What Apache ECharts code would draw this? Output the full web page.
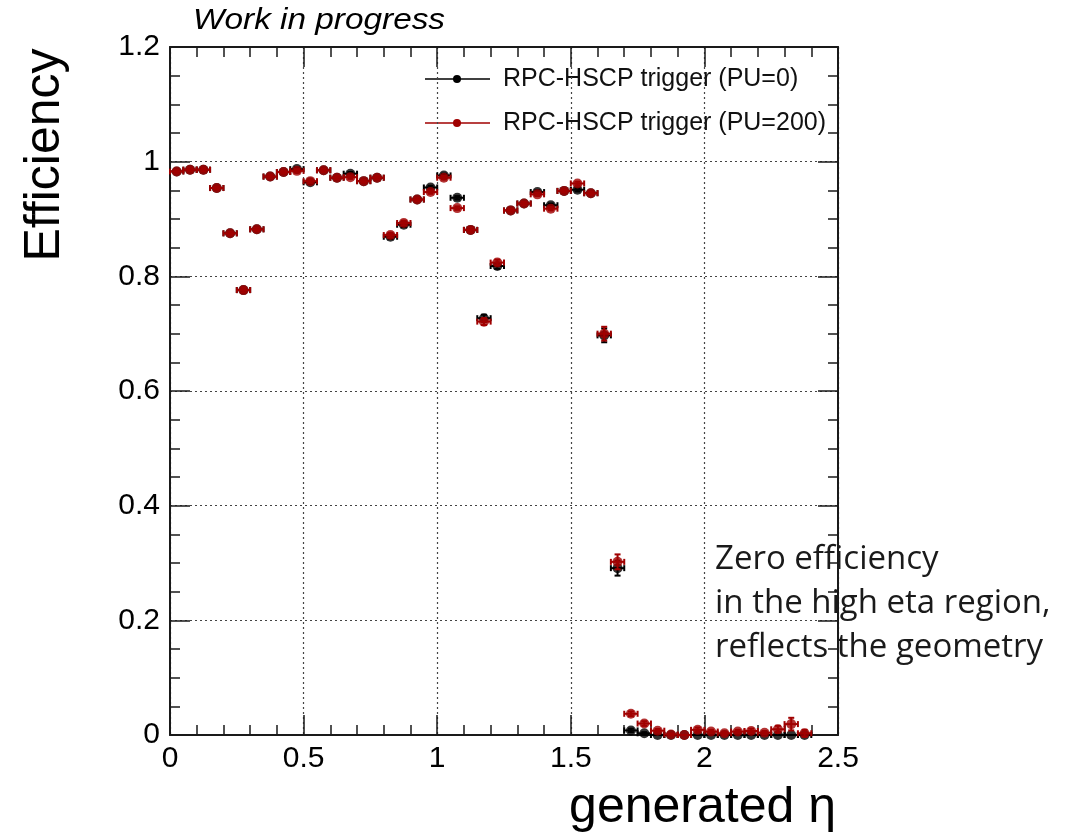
<!DOCTYPE html>
<html>
<head>
<meta charset="utf-8">
<title>RPC-HSCP trigger efficiency vs generated eta</title>
<script src="https://cdn.jsdelivr.net/npm/echarts@6/dist/echarts.min.js"></script>
<style>
  html, body { margin: 0; padding: 0; background: #ffffff; }
  #chart { width: 1068px; height: 839px; }
</style>
</head>
<body>
<div id="chart"></div>
<script>
// Histogram binning in generated eta
const BIN_WIDTH = 0.05;
const etaBins = [
  0.025, 0.075, 0.125, 0.175, 0.225, 0.275, 0.325, 0.375, 0.425, 0.475,
  0.525, 0.575, 0.625, 0.675, 0.725, 0.775, 0.825, 0.875, 0.925, 0.975,
  1.025, 1.075, 1.125, 1.175, 1.225, 1.275, 1.325, 1.375, 1.425, 1.475,
  1.525, 1.575, 1.625, 1.675, 1.725, 1.775, 1.825, 1.875, 1.925, 1.975,
  2.025, 2.075, 2.125, 2.175, 2.225, 2.275, 2.325, 2.375
];

// Efficiency, PU = 0
const effPU0 = [
  0.983, 0.986, 0.986, 0.954, 0.875, 0.776, 0.882, 0.974, 0.982, 0.987,
  0.964, 0.985, 0.972, 0.979, 0.966, 0.972, 0.869, 0.890, 0.934, 0.955,
  0.976, 0.937, 0.881, 0.727, 0.818, 0.915, 0.927, 0.947, 0.924, 0.949,
  0.951, 0.945, 0.697, 0.291, 0.008, 0.003, 0.000, 0.000, 0.000, 0.000,
  0.000, 0.000, 0.000, 0.000, 0.000, 0.000, 0.000, 0.000
];
const errPU0 = [
  0.003, 0.003, 0.003, 0.003, 0.003, 0.004, 0.003, 0.003, 0.003, 0.003,
  0.003, 0.003, 0.003, 0.003, 0.003, 0.003, 0.004, 0.004, 0.003, 0.003,
  0.003, 0.003, 0.004, 0.006, 0.005, 0.003, 0.003, 0.003, 0.003, 0.003,
  0.003, 0.003, 0.012, 0.013, 0.003, 0.002, 0.000, 0.000, 0.000, 0.000,
  0.000, 0.000, 0.000, 0.000, 0.000, 0.000, 0.000, 0.000
];

// Efficiency, PU = 200
const effPU200 = [
  0.983, 0.986, 0.986, 0.954, 0.875, 0.776, 0.882, 0.974, 0.982, 0.984,
  0.966, 0.985, 0.972, 0.973, 0.966, 0.972, 0.872, 0.893, 0.934, 0.947,
  0.972, 0.919, 0.881, 0.721, 0.824, 0.915, 0.927, 0.943, 0.918, 0.949,
  0.962, 0.945, 0.700, 0.302, 0.037, 0.020, 0.0075, 0.001, 0.000, 0.009,
  0.006, 0.003, 0.006, 0.007, 0.004, 0.010, 0.019, 0.003
];
const errPU200 = [
  0.003, 0.003, 0.003, 0.003, 0.003, 0.004, 0.003, 0.003, 0.003, 0.003,
  0.003, 0.003, 0.003, 0.003, 0.003, 0.003, 0.004, 0.004, 0.003, 0.003,
  0.003, 0.003, 0.004, 0.006, 0.005, 0.003, 0.003, 0.003, 0.003, 0.003,
  0.003, 0.003, 0.012, 0.013, 0.004, 0.004, 0.003, 0.002, 0.000, 0.004,
  0.003, 0.003, 0.003, 0.004, 0.003, 0.006, 0.011, 0.006
];

// Axis tick values
const xTicks = [0, 0.5, 1, 1.5, 2, 2.5];
const yTicks = [0, 0.2, 0.4, 0.6, 0.8, 1, 1.2];

const seriesNames = ['RPC-HSCP trigger (PU=0)', 'RPC-HSCP trigger (PU=200)'];
const noteLines = ['Zero efficiency', 'in the high eta region,', 'reflects the geometry'];
const COLOR_PU0 = '#000000';
const COLOR_PU200 = '#a00000';
const FONT = '"Liberation Sans", Arial, Helvetica, sans-serif';
const NOTE_FONT = '33px "Open Sans", "Noto Sans", sans-serif';

function points(vals, errs) {
  return etaBins.map((x, i) => [x, vals[i], errs[i]]);
}

// Error bars: horizontal = bin width, vertical = statistical error, with end caps
function errorBarRenderer(color) {
  const cap = 3;
  return function (params, api) {
    const x = api.value(0), y = api.value(1), e = api.value(2);
    const half = BIN_WIDTH / 2;
    const pL = api.coord([x - half, y]);
    const pR = api.coord([x + half, y]);
    const style = { stroke: color, lineWidth: 2 };
    const children = [
      { type: 'line', shape: { x1: pL[0], y1: pL[1], x2: pR[0], y2: pR[1] }, style },
      { type: 'line', shape: { x1: pL[0], y1: pL[1] - cap, x2: pL[0], y2: pL[1] + cap }, style },
      { type: 'line', shape: { x1: pR[0], y1: pR[1] - cap, x2: pR[0], y2: pR[1] + cap }, style }
    ];
    if (e > 0) {
      const pT = api.coord([x, y + e]);
      const pB = api.coord([x, y - e]);
      children.push(
        { type: 'line', shape: { x1: pT[0], y1: pT[1], x2: pB[0], y2: pB[1] }, style },
        { type: 'line', shape: { x1: pT[0] - cap, y1: pT[1], x2: pT[0] + cap, y2: pT[1] }, style },
        { type: 'line', shape: { x1: pB[0] - cap, y1: pB[1], x2: pB[0] + cap, y2: pB[1] }, style }
      );
    }
    return { type: 'group', children };
  };
}

const axisLineStyle = { color: '#1a1a1a', width: 2 };
const gridLineStyle = { color: '#444444', width: 1.2, type: [2, 3] };

function xAxisDef(pos, showLabels) {
  return {
    type: 'value', position: pos,
    min: xTicks[0], max: xTicks[xTicks.length - 1], interval: 0.5,
    axisLine: { show: true, onZero: false, lineStyle: axisLineStyle },
    axisTick: { show: true, inside: true, length: 20, lineStyle: { color: '#1a1a1a', width: 1.5 } },
    minorTick: { show: true, splitNumber: 5, length: 10, lineStyle: { color: '#1a1a1a', width: 1.5 } },
    splitLine: { show: showLabels, lineStyle: gridLineStyle },
    minorSplitLine: { show: false },
    axisLabel: {
      show: showLabels, color: '#000', fontFamily: FONT, fontSize: 30, margin: 9,
      showMinLabel: true, showMaxLabel: true,
      formatter: v => String(v)
    }
  };
}

function yAxisDef(pos, showLabels) {
  return {
    type: 'value', position: pos,
    min: yTicks[0], max: yTicks[yTicks.length - 1], interval: 0.2,
    axisLine: { show: true, onZero: false, lineStyle: axisLineStyle },
    axisTick: { show: true, inside: true, length: 20, lineStyle: { color: '#1a1a1a', width: 1.5 } },
    minorTick: { show: true, splitNumber: 4, length: 10, lineStyle: { color: '#1a1a1a', width: 1.5 } },
    splitLine: { show: showLabels, lineStyle: gridLineStyle },
    minorSplitLine: { show: false },
    axisLabel: {
      show: showLabels, color: '#000', fontFamily: FONT, fontSize: 30, margin: 10,
      showMinLabel: true, showMaxLabel: true,
      formatter: v => String(Math.round(v * 10) / 10)
    }
  };
}

function legendEntry(y, color, label) {
  return [
    { type: 'line', shape: { x1: 425, y1: y, x2: 490, y2: y }, style: { stroke: color, lineWidth: 1.5 } },
    { type: 'circle', shape: { cx: 457, cy: y, r: 4 }, style: { fill: color } },
    { type: 'text', x: 503, y: y, style: { text: label, fill: '#111', font: '25px ' + FONT, textVerticalAlign: 'middle' } }
  ];
}

function noteText(i, y) {
  return { type: 'text', x: 715, y: y, style: { text: noteLines[i], fill: '#1a1a1a', font: NOTE_FONT, textVerticalAlign: 'middle' } };
}

const chart = echarts.init(document.getElementById('chart'), null, { renderer: 'canvas' });

chart.setOption({
  backgroundColor: '#ffffff',
  animation: false,
  grid: { left: 170, right: 230, top: 47, bottom: 104, outerBoundsMode: 'none' },
  xAxis: [xAxisDef('bottom', true), xAxisDef('top', false)],
  yAxis: [yAxisDef('left', true), yAxisDef('right', false)],
  series: [
    {
      name: seriesNames[0] + ' errors', type: 'custom', xAxisIndex: 0, yAxisIndex: 0, z: 2,
      renderItem: errorBarRenderer(COLOR_PU0), data: points(effPU0, errPU0), silent: true
    },
    {
      name: seriesNames[0], type: 'scatter', xAxisIndex: 0, yAxisIndex: 0, z: 3,
      symbol: 'circle', symbolSize: 10, itemStyle: { color: COLOR_PU0 },
      data: points(effPU0, errPU0)
    },
    {
      name: seriesNames[1] + ' errors', type: 'custom', xAxisIndex: 0, yAxisIndex: 0, z: 4,
      renderItem: errorBarRenderer(COLOR_PU200), data: points(effPU200, errPU200), silent: true
    },
    {
      name: seriesNames[1], type: 'scatter', xAxisIndex: 0, yAxisIndex: 0, z: 5,
      symbol: 'circle', symbolSize: 10, itemStyle: { color: COLOR_PU200 },
      data: points(effPU200, errPU200)
    }
  ],
  graphic: [
    { type: 'text', x: 193, y: 21, scaleX: 1.15, style: { text: 'Work in progress', fill: '#000', font: 'italic 29px ' + FONT, textVerticalAlign: 'middle' } },
    { type: 'text', x: 45, y: 155, rotation: Math.PI / 2, style: { text: 'Efficiency', fill: '#000', font: '50px ' + FONT, textAlign: 'center', textVerticalAlign: 'middle' } },
    { type: 'text', x: 836, y: 808, style: { text: 'generated η', fill: '#000', font: '50px ' + FONT, textAlign: 'right', textVerticalAlign: 'middle' } },
    ...legendEntry(79, COLOR_PU0, seriesNames[0]),
    ...legendEntry(123, COLOR_PU200, seriesNames[1]),
    noteText(0, 560),
    noteText(1, 604),
    noteText(2, 648)
  ]
});
</script>
</body>
</html>
